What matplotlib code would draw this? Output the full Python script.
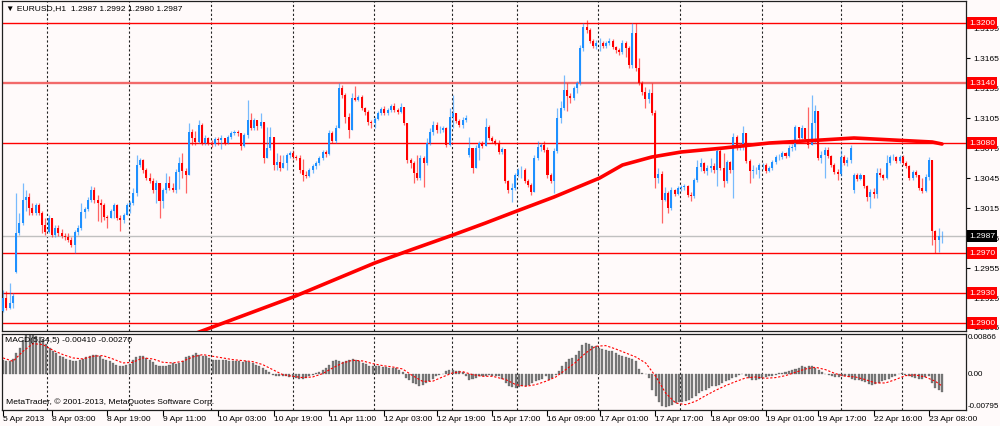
import numpy as np
import matplotlib
matplotlib.use("Agg")
import matplotlib.pyplot as plt
import matplotlib.transforms as mtransforms

FONT = ['Liberation Sans', 'DejaVu Sans']
plt.rcParams['font.family'] = FONT

# ---------------- data: EURUSD H1 candles ----------------
close = [
    1.2925, 1.2915, 1.2920, 1.2927, 1.2990, 1.3000, 1.3023, 1.3026, 1.3015, 1.3010,
    1.3018, 1.3010, 1.2998, 1.2991, 1.3005, 1.2988, 1.2995, 1.2990, 1.2987, 1.2986,
    1.2983, 1.2978, 1.2991, 1.2995, 1.3011, 1.3014, 1.3023, 1.3033, 1.3023, 1.3020,
    1.3018, 1.3006, 1.3005, 1.3012, 1.3018, 1.3005, 1.3003, 1.3008, 1.3018, 1.3020,
    1.3030, 1.3058, 1.3063, 1.3053, 1.3045, 1.3042, 1.3033, 1.3040, 1.3022, 1.3033,
    1.3040, 1.3035, 1.3033, 1.3051, 1.3060, 1.3052, 1.3048, 1.3091, 1.3085, 1.3081,
    1.3098, 1.3080, 1.3085, 1.3080, 1.3079, 1.3084, 1.3083, 1.3085, 1.3080, 1.3086,
    1.3090, 1.3091, 1.3090, 1.3077, 1.3088, 1.3103, 1.3095, 1.3103, 1.3097, 1.3101,
    1.3065, 1.3075, 1.3086, 1.3058, 1.3061, 1.3055, 1.3060, 1.3068, 1.3070, 1.3066,
    1.3065, 1.3053, 1.3048, 1.3047, 1.3053, 1.3057, 1.3060, 1.3065, 1.3071, 1.3069,
    1.3090, 1.3082, 1.3095, 1.3135, 1.3128, 1.3106, 1.3093, 1.3125, 1.3123, 1.3126,
    1.3115, 1.3111, 1.3101, 1.3100, 1.3104, 1.3110, 1.3114, 1.3110, 1.3113, 1.3117,
    1.3113, 1.3111, 1.3116, 1.3100, 1.3063, 1.3060, 1.3050, 1.3045, 1.3065, 1.3060,
    1.3080, 1.3091, 1.3098, 1.3093, 1.3093, 1.3095, 1.3078, 1.3106, 1.3110, 1.3102,
    1.3098, 1.3103, 1.3105, 1.3075, 1.3055, 1.3075, 1.3080, 1.3077, 1.3096, 1.3085,
    1.3082, 1.3080, 1.3071, 1.3074, 1.3042, 1.3033, 1.3035, 1.3048, 1.3053, 1.3053,
    1.3042, 1.3038, 1.3031, 1.3065, 1.3076, 1.3078, 1.3073, 1.3048, 1.3042, 1.3072,
    1.3105, 1.3115, 1.3133, 1.3127, 1.3125, 1.3135, 1.3140, 1.3175, 1.3196, 1.3193,
    1.3182, 1.3177, 1.3180, 1.3180, 1.3177, 1.3180, 1.3182, 1.3176, 1.3173, 1.3171,
    1.3180, 1.3175, 1.3158, 1.3190, 1.3155, 1.3140, 1.3131, 1.3124, 1.3130, 1.3110,
    1.3045, 1.3049, 1.3023, 1.3030, 1.3015, 1.3033, 1.3029, 1.3035, 1.3036, 1.3037,
    1.3028, 1.3027, 1.3043, 1.3056, 1.3060, 1.3052, 1.3055, 1.3057, 1.3053, 1.3072,
    1.3055, 1.3042, 1.3061, 1.3053, 1.3086, 1.3075, 1.3078, 1.3090, 1.3062, 1.3052,
    1.3053, 1.3053, 1.3058, 1.3058, 1.3052, 1.3055, 1.3061, 1.3066, 1.3066, 1.3070,
    1.3067, 1.3075, 1.3076, 1.3096, 1.3085, 1.3095, 1.3084, 1.3078, 1.3100, 1.3112,
    1.3065, 1.3068, 1.3073, 1.3067, 1.3058, 1.3051, 1.3049, 1.3066, 1.3060, 1.3063,
    1.3075, 1.3048, 1.3044, 1.3048, 1.3037, 1.3026, 1.3031, 1.3029, 1.3050, 1.3048,
    1.3045, 1.3060, 1.3066, 1.3066, 1.3062, 1.3066, 1.3060, 1.3057, 1.3045, 1.3051,
    1.3048, 1.3035, 1.3032, 1.3046, 1.3063, 1.2992, 1.2983, 1.2987, 1.2987,
]
high = [
    1.2933, 1.2932, 1.2940, 1.2930, 1.3030, 1.3010, 1.3040, 1.3033, 1.3030, 1.3020,
    1.3020, 1.3020, 1.3012, 1.3005, 1.3008, 1.3000, 1.2998, 1.2998, 1.2994, 1.2990,
    1.2990, 1.2986, 1.2993, 1.2998, 1.3020, 1.3016, 1.3026, 1.3037, 1.3036, 1.3028,
    1.3024, 1.3020, 1.3008, 1.3014, 1.3020, 1.3019, 1.3008, 1.3010, 1.3020, 1.3022,
    1.3035, 1.3068, 1.3065, 1.3064, 1.3055, 1.3050, 1.3045, 1.3043, 1.3037, 1.3035,
    1.3050, 1.3047, 1.3040, 1.3054, 1.3066, 1.3070, 1.3055, 1.3100, 1.3094, 1.3092,
    1.3103, 1.3100, 1.3088, 1.3086, 1.3083, 1.3086, 1.3086, 1.3088, 1.3085, 1.3088,
    1.3092, 1.3093, 1.3093, 1.3090, 1.3090, 1.3123, 1.3110, 1.3105, 1.3100, 1.3110,
    1.3100, 1.3096, 1.3096, 1.3085, 1.3070, 1.3068, 1.3068, 1.3070, 1.3072, 1.3073,
    1.3068, 1.3068, 1.3064, 1.3052, 1.3055, 1.3059, 1.3062, 1.3067, 1.3073, 1.3073,
    1.3093, 1.3092, 1.3098, 1.3140, 1.3138, 1.3130, 1.3110, 1.3130, 1.3137, 1.3128,
    1.3128, 1.3116, 1.3113, 1.3103, 1.3106, 1.3112, 1.3116, 1.3117, 1.3115, 1.3119,
    1.3120, 1.3115, 1.3120, 1.3115, 1.3100, 1.3065, 1.3062, 1.3068, 1.3068, 1.3067,
    1.3085, 1.3095, 1.3102, 1.3101, 1.3097, 1.3097, 1.3096, 1.3115, 1.3128, 1.3110,
    1.3104, 1.3106, 1.3108, 1.3086, 1.3075, 1.3078, 1.3082, 1.3082, 1.3105, 1.3098,
    1.3087, 1.3084, 1.3083, 1.3076, 1.3074, 1.3043, 1.3040, 1.3050, 1.3055, 1.3057,
    1.3055, 1.3044, 1.3040, 1.3068, 1.3082, 1.3080, 1.3082, 1.3076, 1.3050, 1.3075,
    1.3115, 1.3122, 1.3148, 1.3140, 1.3130, 1.3137, 1.3142, 1.3178, 1.3200, 1.3203,
    1.3195, 1.3184, 1.3183, 1.3185, 1.3182, 1.3182, 1.3185, 1.3184, 1.3177, 1.3175,
    1.3183, 1.3182, 1.3177, 1.3200, 1.3200, 1.3165, 1.3142, 1.3136, 1.3134, 1.3140,
    1.3113, 1.3055, 1.3052, 1.3036, 1.3032, 1.3036, 1.3034, 1.3037, 1.3038, 1.3039,
    1.3038, 1.3031, 1.3045, 1.3063, 1.3065, 1.3061, 1.3058, 1.3065, 1.3060, 1.3075,
    1.3076, 1.3070, 1.3063, 1.3062, 1.3090, 1.3088, 1.3080, 1.3097, 1.3090, 1.3064,
    1.3058, 1.3056, 1.3060, 1.3060, 1.3060, 1.3057, 1.3063, 1.3068, 1.3069, 1.3072,
    1.3071, 1.3078, 1.3079, 1.3098, 1.3096, 1.3098, 1.3090, 1.3116, 1.3128, 1.3118,
    1.3112, 1.3072, 1.3076, 1.3076, 1.3068, 1.3060, 1.3054, 1.3073, 1.3068, 1.3066,
    1.3078, 1.3050, 1.3050, 1.3050, 1.3048, 1.3038, 1.3034, 1.3035, 1.3055, 1.3055,
    1.3049, 1.3068, 1.3068, 1.3069, 1.3067, 1.3068, 1.3068, 1.3062, 1.3058, 1.3053,
    1.3053, 1.3048, 1.3045, 1.3049, 1.3066, 1.3062, 1.2993, 1.2995, 1.2992,
]
low = [
    1.2911, 1.2913, 1.2914, 1.2915, 1.2950, 1.2988, 1.2998, 1.3012, 1.3008, 1.3008,
    1.3008, 1.3008, 1.2990, 1.2988, 1.2990, 1.2986, 1.2986, 1.2987, 1.2985, 1.2983,
    1.2981, 1.2976, 1.2970, 1.2988, 1.2993, 1.3005, 1.3012, 1.3021, 1.3020, 1.3002,
    1.3001, 1.3003, 1.2995, 1.3005, 1.3005, 1.3003, 1.2992, 1.3000, 1.3008, 1.3010,
    1.3018, 1.3027, 1.3056, 1.3050, 1.3043, 1.3040, 1.3030, 1.3020, 1.3005, 1.3015,
    1.3030, 1.3033, 1.3031, 1.3030, 1.3034, 1.3045, 1.3030, 1.3048, 1.3078, 1.3078,
    1.3080, 1.3078, 1.3078, 1.3078, 1.3076, 1.3077, 1.3078, 1.3074, 1.3078, 1.3079,
    1.3084, 1.3088, 1.3087, 1.3073, 1.3076, 1.3085, 1.3093, 1.3093, 1.3093, 1.3095,
    1.3060, 1.3065, 1.3073, 1.3053, 1.3053, 1.3052, 1.3055, 1.3053, 1.3065, 1.3064,
    1.3063, 1.3050, 1.3042, 1.3045, 1.3046, 1.3050, 1.3054, 1.3058, 1.3063, 1.3066,
    1.3068, 1.3080, 1.3080, 1.3095, 1.3125, 1.3100, 1.3085, 1.3093, 1.3122, 1.3122,
    1.3113, 1.3108, 1.3098, 1.3095, 1.3095, 1.3103, 1.3108, 1.3108, 1.3108, 1.3111,
    1.3111, 1.3109, 1.3110, 1.3098, 1.3060, 1.3055, 1.3040, 1.3043, 1.3043, 1.3036,
    1.3058, 1.3078, 1.3088, 1.3090, 1.3090, 1.3091, 1.3076, 1.3077, 1.3095, 1.3100,
    1.3096, 1.3095, 1.3101, 1.3066, 1.3050, 1.3055, 1.3063, 1.3075, 1.3078, 1.3083,
    1.3080, 1.3078, 1.3069, 1.3069, 1.3040, 1.3030, 1.3021, 1.3033, 1.3046, 1.3045,
    1.3040, 1.3036, 1.3028, 1.3031, 1.3063, 1.3072, 1.3071, 1.3045, 1.3040, 1.3030,
    1.3070, 1.3100, 1.3113, 1.3112, 1.3120, 1.3123, 1.3130, 1.3138, 1.3172, 1.3190,
    1.3180, 1.3175, 1.3174, 1.3172, 1.3175, 1.3175, 1.3178, 1.3174, 1.3170, 1.3168,
    1.3169, 1.3166, 1.3155, 1.3155, 1.3152, 1.3138, 1.3128, 1.3115, 1.3120, 1.3108,
    1.3035, 1.3040, 1.3000, 1.3022, 1.3010, 1.3013, 1.3027, 1.3028, 1.3032, 1.3033,
    1.3026, 1.3022, 1.3025, 1.3041, 1.3052, 1.3050, 1.3048, 1.3051, 1.3050, 1.3037,
    1.3053, 1.3036, 1.3040, 1.3050, 1.3025, 1.3073, 1.3073, 1.3073, 1.3060, 1.3040,
    1.3045, 1.3049, 1.3045, 1.3054, 1.3050, 1.3051, 1.3053, 1.3059, 1.3063, 1.3064,
    1.3065, 1.3066, 1.3072, 1.3073, 1.3083, 1.3084, 1.3082, 1.3075, 1.3078, 1.3080,
    1.3063, 1.3060, 1.3045, 1.3065, 1.3056, 1.3049, 1.3043, 1.3047, 1.3058, 1.3057,
    1.3060, 1.3030, 1.3042, 1.3043, 1.3035, 1.3022, 1.3015, 1.3025, 1.3025, 1.3046,
    1.3043, 1.3044, 1.3058, 1.3063, 1.3060, 1.3060, 1.3058, 1.3055, 1.3043, 1.3043,
    1.3046, 1.3033, 1.3030, 1.3031, 1.3043, 1.2978, 1.2970, 1.2971, 1.2980,
]
first_open = 1.2912
gap_open = {4: 1.2951, 143: 1.3068, 261: 1.3033}   # week-open gaps

# moving average (knots: bar index, value)
ma_bar = [56, 61, 89, 114, 125, 138, 148, 156, 169, 183, 190, 199, 208, 221, 235, 251, 261, 273, 285, 288]
ma_val = [1.2886, 1.2892, 1.2926, 1.2960, 1.2973, 1.2988, 1.3000, 1.3010, 1.3026, 1.3045,
          1.3058, 1.3066, 1.3071, 1.3075, 1.3080, 1.3083, 1.3085, 1.3083, 1.3081, 1.3079]

# MACD(5,34,5) main (histogram)
macd_hist = [
    .00306, .00270, .00270, .00321, .00452, .00561, .00744, .00853, .00860, .00853,
    .00831, .00802, .00744, .00656, .00561, .00488, .00452, .00394, .00365, .00321,
    .00292, .00270, .00270, .00292, .00321, .00365, .00394, .00416, .00401, .00379,
    .00321, .00292, .00270, .00233, .00197, .00175, .00175, .00197, .00219, .00306,
    .00365, .00394, .00379, .00343, .00292, .00248, .00197, .00175, .00175, .00175,
    .00197, .00233, .00219, .00233, .00270, .00365, .00394, .00416, .00452, .00416,
    .00394, .00379, .00343, .00306, .00306, .00292, .00292, .00292, .00270, .00270,
    .00270, .00270, .00255, .00270, .00248, .00233, .00197, .00160, .00124, .00087,
    .00029, -.00022, -.00044, -.00044, -.00058, -.00058, -.00073, -.00073, -.00095, -.00117,
    -.00117, -.00095, -.00058, -.00022, .00015, .00029, .00073, .00124, .00197, .00270,
    .00306, .00270, .00248, .00277, .00306, .00321, .00306, .00270, .00233, .00219,
    .00175, .00160, .00160, .00160, .00146, .00146, .00124, .00124, .00124, .00087,
    .00029, -.00095, -.00131, -.00204, -.00219, -.00262, -.00241, -.00204, -.00168, -.00117,
    -.00058, -.00022, -.00005, .00051, .00073, .00073, .00051, .00051, .00029, -.00058,
    -.00131, -.00117, -.00095, -.00058, -.00044, -.00044, -.00022, -.00044, -.00044, -.00058,
    -.00117, -.00204, -.00262, -.00299, -.00313, -.00292, -.00277, -.00262, -.00248, -.00204,
    -.00168, -.00131, -.00117, -.00058, -.00131, -.00095, -.00022, .00051, .00160, .00248,
    .00321, .00343, .00416, .00488, .00634, .00671, .00656, .00612, .00598, .00561,
    .00539, .00525, .00488, .00488, .00452, .00416, .00379, .00365, .00343, .00321,
    .00270, .00102, .00015, -.00007, -.00095, -.00350, -.00496, -.00627, -.00700, -.00729,
    -.00714, -.00678, -.00642, -.00627, -.00627, -.00605, -.00569, -.00532, -.00481, -.00423,
    -.00386, -.00350, -.00313, -.00277, -.00262, -.00241, -.00204, -.00168, -.00131, -.00095,
    -.00073, -.00022, -.00007, -.00044, -.00095, -.00131, -.00131, -.00117, -.00095, -.00073,
    -.00058, -.00044, -.00022, .00015, .00015, .00029, .00051, .00087, .00102, .00124,
    .00160, .00139, .00175, .00160, .00124, .00087, .00029, -.00005, -.00022, -.00058,
    -.00073, -.00073, -.00058, -.00058, -.00073, -.00117, -.00131, -.00146, -.00168, -.00190,
    -.00219, -.00241, -.00219, -.00204, -.00168, -.00146, -.00117, -.00073, -.00044, -.00005,
    .00015, -.00022, -.00058, -.00073, -.00095, -.00117, -.00117, -.00073, -.00058, -.00204,
    -.00313, -.00350, -.00410,
]
# MACD signal line (knots: macd bar index, value)
signal_bar = list(range(0, 148, 3)) + list(range(151, 281, 3)) + [282]
signal_val = [
    .00343, .00270, .00488, .00656, .00634, .00510, .00416, .00343, .00321, .00379,
    .00394, .00321, .00233, .00248, .00343, .00321, .00248, .00233, .00270, .00365,
    .00416, .00379, .00343, .00306, .00284, .00262, .00197, .00087, -.00022, -.00058,
    -.00087, -.00073, 0.0, .00124, .00233, .00292, .00277, .00219, .00175, .00146,
    .00102, -.00044, -.00168, -.00168, -.00073, .00015, .00044, -.00022, -.00058, -.00058,
    -.00131, -.00241, -.00277, -.00241, -.00168, -.00073, .00087, .00248, .00452, .00598,
    .00612, .00539, .00452, .00365, .00233, -.00058, -.00423, -.00642, -.00678, -.00605,
    -.00481, -.00365, -.00262, -.00175, -.00095, -.00073, -.00102, -.00087, -.00044, .00029,
    .00102, .00139, .00087, 0.0, -.00058, -.00073, -.00131, -.00204, -.00204, -.00131,
    -.00044, -.00029, -.00073, -.00168, -.00270,
]

level_lines = [1.3200, 1.3140, 1.3080, 1.2970, 1.2930, 1.2900]
last_price = 1.2987
price_ticks = [1.3195, 1.3165, 1.3135, 1.3105, 1.3075, 1.3045, 1.3015, 1.2985, 1.2955, 1.2925, 1.2895]
macd_max, macd_min = 0.00866, -0.00795
time_tick_bar = [0, 15, 32, 49, 66, 83, 100, 117, 133, 150, 167, 183, 200, 217, 234, 250, 267, 284]
time_tick_lbl = ["5 Apr 2013", "8 Apr 03:00", "8 Apr 19:00", "9 Apr 11:00", "10 Apr 03:00",
                 "10 Apr 19:00", "11 Apr 11:00", "12 Apr 03:00", "12 Apr 19:00", "15 Apr 17:00",
                 "16 Apr 09:00", "17 Apr 01:00", "17 Apr 17:00", "18 Apr 09:00", "19 Apr 01:00",
                 "19 Apr 17:00", "22 Apr 16:00", "23 Apr 08:00"]
day_sep_bar = [13.5, 38.6, 63.8, 88.9, 113.8, 137.7, 157.6, 182.5, 207.6, 232.8, 257.0, 275.7]

# ---------------- styling ----------------
BG = '#FFFAFA'
BLUE = '#1E90FF'
RED = '#FF0000'
FS = 6.1

n = len(close)
c = np.array(close)
o = np.array([first_open] + close[:-1])
for k, v in gap_open.items():
    o[k] = v
h = np.maximum(np.array(high), np.maximum(o, c))
l = np.minimum(np.array(low), np.minimum(o, c))
x = np.arange(n)
up = c >= o
cols = np.where(up, BLUE, RED)

fig = plt.figure(figsize=(10, 4.26), dpi=100, facecolor=BG)
ax = fig.add_axes([0.002, 1 - 331 / 426, 0.964, 330 / 426], facecolor=BG)
ax2 = fig.add_axes([0.002, 1 - 410 / 426, 0.964, 76 / 426], facecolor=BG)

XL = (-0.307, 295.36)
for a in (ax, ax2):
    a.set_xlim(*XL)
    for s in a.spines.values():
        s.set_color('#202020')
        s.set_linewidth(0.9)
    for b in day_sep_bar:
        a.axvline(b, color='#222222', lw=0.8, ls=(0, (2, 2)), zorder=1)

# main pane
ax.set_ylim(1.2892, 1.3222)
for v in level_lines:
    if v == 1.3140:
        ax.axhline(v, color='#F26A6A', lw=1.7, zorder=1.5)
    else:
        ax.axhline(v, color=RED, lw=1.0, zorder=1.5)
ax.axhline(last_price, color='#C0C0C0', lw=1.0, zorder=1.4)

ax.vlines(x, l, h, colors=cols, lw=0.9, alpha=0.6, zorder=2)
body_bot = np.minimum(o, c)
body_h = np.maximum(np.abs(c - o), 0.00005)
ax.bar(x, body_h, bottom=body_bot, width=0.62, color=cols, linewidth=0, zorder=3)
ax.plot(ma_bar, ma_val, color=RED, lw=2.6, solid_capstyle='round', zorder=4)

ax.yaxis.tick_right()
ax.set_yticks(price_ticks)
ax.set_yticklabels([f'{v:.4f}' for v in price_ticks])
ax.set_xticks([])
ax.tick_params(axis='y', direction='out', length=3, width=0.8, pad=2, labelsize=FS,
               colors='#000000')

tr = mtransforms.blended_transform_factory(ax.transAxes, ax.transData)
xlab = (969 - 2) / 964
for v in level_lines:
    ax.text(xlab, v, f'{v:.4f}', transform=tr, color='white', fontsize=FS, va='center',
            ha='left', zorder=10, clip_on=False,
            bbox=dict(boxstyle='square,pad=0.25', fc=RED, ec='none'))
ax.text(xlab, last_price, f'{last_price:.4f}', transform=tr, color='white', fontsize=FS,
        va='center', ha='left', zorder=10, clip_on=False,
        bbox=dict(boxstyle='square,pad=0.25', fc='#000000', ec='none'))

ax.text(4 / 964, 1 - 8 / 330, '\u25bc EURUSD,H1  1.2987 1.2992 1.2980 1.2987',
        transform=ax.transAxes, fontsize=FS, va='center', ha='left', color='black',
        family=FONT, zorder=10)

# MACD pane
xm = np.linspace(0, n - 1, len(macd_hist))
ax2.set_ylim(macd_min, macd_max)
ax2.bar(xm, macd_hist, width=0.62, color='#7A7A7A', edgecolor='#5A5A5A', linewidth=0.2,
        zorder=2)
ax2.plot(np.array(signal_bar) * (n - 1) / (len(macd_hist) - 1), signal_val, color=RED,
         lw=0.8, ls=(0, (2, 1.6)), zorder=3)
ax2.yaxis.tick_right()
ax2.set_yticks([macd_max, 0.0, macd_min])
ax2.set_yticklabels(['0.00866', '0.00', '-0.00795'])
ax2.tick_params(axis='y', direction='out', length=0, pad=1.5, labelsize=5.8, colors='#000000')
yl = ax2.get_yticklabels()
yl[0].set_va('top')
yl[2].set_va('bottom')
ax2.set_xticks(time_tick_bar)
ax2.set_xticklabels(time_tick_lbl)
ax2.tick_params(axis='x', direction='out', length=4, width=0.8, pad=0.5, labelsize=FS,
                colors='#000000')
for t in ax2.get_xticklabels():
    t.set_ha('left')
ax2.text(3 / 964, (410 - 341) / 76, 'MACD(5,34,5) -0.00410 -0.00270', transform=ax2.transAxes,
         fontsize=FS, va='center', ha='left', zorder=10)
ax2.text(4 / 964, (410 - 402) / 76, 'MetaTrader, \u00a9 2001-2013, MetaQuotes Software Corp.',
         transform=ax2.transAxes, fontsize=FS, va='center', ha='left', zorder=10)

fig.savefig('out.png', dpi=100, facecolor=BG)
